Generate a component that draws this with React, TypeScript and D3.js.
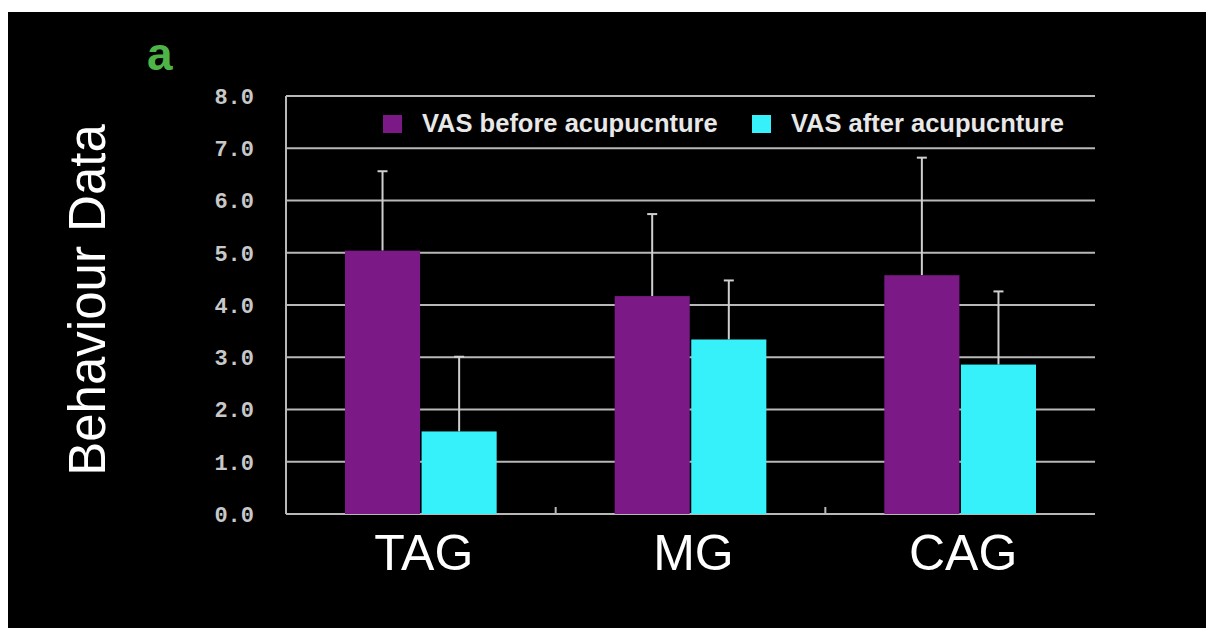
import React from "react";
import * as d3 from "d3";

const categories = ["TAG", "MG", "CAG"];
const seriesNames = ["VAS before acupucnture", "VAS after acupucnture"];
const beforeValues = [5.04, 4.17, 4.57];
const beforeErrors = [1.52, 1.57, 2.25];
const afterValues = [1.58, 3.34, 2.86];
const afterErrors = [1.43, 1.13, 1.4];
const yTicks = [0, 1, 2, 3, 4, 5, 6, 7, 8];

const colors = ["#7b1a87", "#36f1fa"];

const App = () => {
  const svgRef = React.useRef<SVGSVGElement>(null);
  const width = 1206;
  const height = 628;

  React.useEffect(() => {
    const svg = d3.select(svgRef.current);
    svg.selectAll("*").remove();

    // background: white frame with black slide area
    svg.append("rect").attr("width", width).attr("height", height).attr("fill", "#fff");
    svg.append("rect").attr("x", 8).attr("y", 12).attr("width", width - 8).attr("height", height - 12).attr("fill", "#000");

    const x = d3.scaleBand<string>().domain(categories).range([286, 1095]).padding(0);
    const xSub = d3
      .scaleBand<string>()
      .domain(seriesNames)
      .range([0, x.bandwidth()])
      .paddingInner(0.02)
      .paddingOuter(0.77);
    const y = d3.scaleLinear().domain([0, 8]).range([514, 96]);

    const grid = "#b8b8b8";

    // horizontal grid lines
    svg
      .append("g")
      .selectAll("line")
      .data(yTicks)
      .enter()
      .append("line")
      .attr("x1", 286)
      .attr("x2", 1095)
      .attr("y1", (d) => y(d))
      .attr("y2", (d) => y(d))
      .attr("stroke", grid)
      .attr("stroke-width", 2);

    // left axis line
    svg.append("line").attr("x1", 286).attr("x2", 286).attr("y1", y(8)).attr("y2", y(0)).attr("stroke", grid).attr("stroke-width", 2);

    // y tick labels
    svg
      .append("g")
      .selectAll("text")
      .data(yTicks)
      .enter()
      .append("text")
      .attr("x", 254)
      .attr("y", (d) => y(d))
      .attr("dy", "0.36em")
      .attr("text-anchor", "end")
      .attr("font-family", "Liberation Mono, DejaVu Sans Mono, monospace")
      .attr("font-size", 22)
      .attr("font-weight", "bold")
      .attr("fill", "#c8c8c8")
      .text((d) => d.toFixed(1));

    // category separator ticks (pointing up)
    svg
      .append("g")
      .selectAll("line")
      .data(categories.slice(1))
      .enter()
      .append("line")
      .attr("x1", (d) => x(d)!)
      .attr("x2", (d) => x(d)!)
      .attr("y1", y(0))
      .attr("y2", y(0) - 7)
      .attr("stroke", grid)
      .attr("stroke-width", 2);

    const series = [
      { name: seriesNames[0], values: beforeValues, errors: beforeErrors, color: colors[0] },
      { name: seriesNames[1], values: afterValues, errors: afterErrors, color: colors[1] },
    ];

    series.forEach((s) => {
      const g = svg.append("g");
      // error bars (upper only)
      categories.forEach((c, i) => {
        const cx = x(c)! + xSub(s.name)! + xSub.bandwidth() / 2;
        const top = y(s.values[i] + s.errors[i]);
        g.append("line").attr("x1", cx).attr("x2", cx).attr("y1", y(s.values[i])).attr("y2", top).attr("stroke", "#cfcfcf").attr("stroke-width", 2);
        g.append("line").attr("x1", cx - 5).attr("x2", cx + 5).attr("y1", top).attr("y2", top).attr("stroke", "#cfcfcf").attr("stroke-width", 2);
      });
      g.selectAll("rect")
        .data(s.values)
        .enter()
        .append("rect")
        .attr("x", (d, i) => x(categories[i])! + xSub(s.name)!)
        .attr("y", (d) => y(d))
        .attr("width", xSub.bandwidth())
        .attr("height", (d) => y(0) - y(d))
        .attr("fill", s.color);
    });

    // category labels
    svg
      .append("g")
      .selectAll("text")
      .data(categories)
      .enter()
      .append("text")
      .attr("x", (d) => x(d)! + x.bandwidth() / 2 + 3)
      .attr("y", 570)
      .attr("text-anchor", "middle")
      .attr("font-family", "Liberation Sans, Arial, sans-serif")
      .attr("font-size", 50)
      .attr("fill", "#fff")
      .text((d) => d);

    // y axis title
    svg
      .append("text")
      .attr("transform", "translate(105,300) rotate(-90)")
      .attr("text-anchor", "middle")
      .attr("font-family", "Liberation Sans, Arial, sans-serif")
      .attr("font-size", 51)
      .attr("fill", "#fff")
      .text("Behaviour Data");

    // panel letter
    svg
      .append("text")
      .attr("x", 147)
      .attr("y", 70)
      .attr("font-family", "Liberation Sans, Arial, sans-serif")
      .attr("font-weight", "bold")
      .attr("font-size", 46)
      .attr("fill", "#4fb447")
      .text("a");

    // legend
    const legendX = [383, 752];
    series.forEach((s, i) => {
      svg.append("rect").attr("x", legendX[i]).attr("y", 115).attr("width", 19).attr("height", 18).attr("fill", s.color);
      svg
        .append("text")
        .attr("x", legendX[i] + 39)
        .attr("y", 132)
        .attr("font-family", "Liberation Sans, Arial, sans-serif")
        .attr("font-weight", "bold")
        .attr("font-size", 25.5)
        .attr("fill", "#e8e8e8")
        .text(s.name);
    });
  }, []);

  return (
    <svg
      ref={svgRef}
      width={width}
      height={height}
      style={{ position: "absolute", left: 0, top: 0 }}
    />
  );
};

export default App;
